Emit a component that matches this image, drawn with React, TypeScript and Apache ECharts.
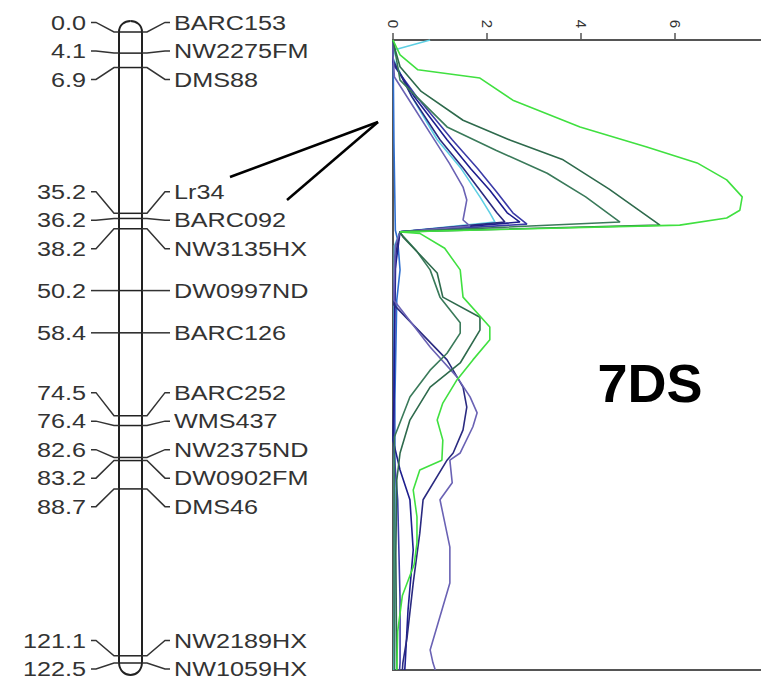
import React, { useEffect, useRef } from 'react';
import * as echarts from 'echarts';

// Linkage map of chromosome 7DS (positions in cM)
const markerPositions = [0.0, 4.1, 6.9, 35.2, 36.2, 38.2, 50.2, 58.4, 74.5, 76.4, 82.6, 83.2, 88.7, 121.1, 122.5];
const markerNames = ['BARC153', 'NW2275FM', 'DMS88', 'Lr34', 'BARC092', 'NW3135HX', 'DW0997ND', 'BARC126', 'BARC252', 'WMS437', 'NW2375ND', 'DW0902FM', 'DMS46', 'NW2189HX', 'NW1059HX'];

// LOD profiles: [LOD, position cM]
const lodBrightGreen = [[0, 0], [0.15, 2.9], [0.53, 5.8], [1.85, 7.4], [2.55, 11.7], [3.98, 16.9], [5.4, 20.8], [6.47, 23.9], [7.1, 27.2], [7.43, 30.5], [7.38, 33.1], [7.1, 34.6], [6.1, 36.0], [5.68, 36.1], [0.15, 37.3], [0.57, 37.6], [1.1, 40.5], [1.43, 44.7], [1.49, 50], [2.06, 55.8], [2.06, 58.3], [1.7, 62.2], [1.36, 66.1], [1.06, 70.6], [0.94, 73.9], [1.06, 77.8], [1.04, 81.7], [0.57, 83.6], [0.43, 87.5], [0.51, 92.7], [0.51, 97.8], [0.45, 102], [0.2, 108], [0.1, 115], [0.08, 122.5]];
const lodDarkGreenA = [[0, 0], [0.05, 2], [0.15, 5.2], [0.6, 10], [1.49, 15.6], [2.5, 19.5], [3.62, 23.3], [4.6, 29], [5.68, 36.0], [0.15, 37.3], [0.21, 38.3], [0.6, 42], [0.94, 45.3], [1.06, 50], [1.85, 53.9], [1.85, 56.4], [1.43, 62.8], [0.79, 67.5], [0.36, 73.9], [0.15, 80.3], [0.08, 85.6], [0.06, 100], [0.08, 122.5]];
const lodDarkGreenB = [[0, 0], [0.05, 2.5], [0.15, 7.8], [0.5, 11], [1.15, 16.9], [2.2, 21.5], [3.28, 25.9], [4.1, 30.5], [4.83, 35.4], [0.15, 37.3], [0.15, 37.5], [0.5, 41], [0.79, 44.7], [1.0, 50], [1.43, 55], [1.43, 57], [1.15, 60.9], [0.79, 64.2], [0.36, 69.4], [0.03, 77.2], [0.02, 100], [0.03, 122.5]];
const lodSlate = [[0, 0], [0, 2.9], [0.03, 7.2], [0.4, 12.5], [0.79, 18.1], [1.2, 24], [1.49, 28.6], [1.57, 31.1], [1.49, 35], [1.64, 36.2], [0.15, 37.3], [0.05, 40], [0.03, 45], [0.02, 50.6], [0.79, 59.7], [1.36, 65.5], [1.64, 69.4], [1.79, 72.5], [1.7, 75.2], [1.43, 80.3], [1.21, 81.7], [1.26, 86.1], [1.0, 89.4], [1.21, 98.6], [1.21, 105.6], [0.79, 118.6], [0.85, 121.1], [0.9, 122.5]];
const lodNavyA = [[0, 0], [0, 3.9], [0.4, 11], [1.0, 19.4], [1.5, 25], [1.85, 29.2], [2.21, 33.6], [2.38, 35.4], [0.15, 37.3], [0.05, 42], [0.02, 51.5], [1.15, 62.2], [1.49, 67.5], [1.57, 71.4], [1.49, 75.8], [1.28, 80.3], [1.15, 81.7], [0.64, 89.4], [0.57, 95.9], [0.43, 105.6], [0.3, 116.1], [0.21, 121.1], [0.2, 122.5]];
const lodNavyB = [[0, 0], [0, 4.3], [0.45, 11], [1.15, 19.4], [1.65, 25], [2.06, 29.2], [2.43, 33.6], [2.7, 35.4], [0.15, 37.3], [0.04, 45], [0.02, 70], [0, 77.8], [0.15, 83.6], [0.36, 89.4], [0.43, 99.2], [0.32, 110.8], [0.26, 121.1], [0.25, 122.5]];
const lodNavyC = [[0, 0], [0, 4.7], [0.5, 11], [1.26, 19.4], [1.8, 25], [2.21, 29.6], [2.55, 33.6], [2.85, 35.8], [0.15, 37.3], [0.06, 40], [0.03, 60], [0.02, 80], [0.1, 89.4], [0.15, 108.9], [0.15, 121.1], [0.14, 122.5]];
const lodCyan = [[0.79, 0], [0.04, 1.9], [0, 3.5], [0.4, 11], [0.94, 19.4], [1.45, 25], [1.85, 30.5], [2.06, 33.6], [2.17, 35.4], [0.15, 37.3], [0.03, 40], [0.02, 60], [0.03, 90], [0.02, 122.5]];
const lodBlue = [[0, 0], [0.02, 20], [0.05, 37], [0.1, 38.9], [0.15, 44.7], [0.08, 50.6], [0.04, 70], [0.04, 100], [0.03, 122.5]];

const lodTickInterval = 2;
const chromosomeTitle = '7DS';

const FONT = '"Liberation Sans", Arial, sans-serif';

function spreadLabels(ys: number[], gap: number, maxY: number): number[] {
  const groups: { start: number; end: number; sum: number }[] = [];
  const topOf = (g: { start: number; end: number; sum: number }) => {
    const n = g.end - g.start + 1;
    return g.sum / n - ((n - 1) * gap) / 2;
  };
  ys.forEach((y, i) => {
    groups.push({ start: i, end: i, sum: y });
    while (groups.length > 1) {
      const b = groups[groups.length - 1];
      const a = groups[groups.length - 2];
      const aBottom = topOf(a) + (a.end - a.start) * gap;
      if (aBottom + gap > topOf(b)) {
        a.end = b.end;
        a.sum += b.sum;
        groups.pop();
      } else break;
    }
  });
  const out: number[] = [];
  groups.forEach((g) => {
    const n = g.end - g.start + 1;
    let top = topOf(g);
    if (top + (n - 1) * gap > maxY) top = maxY - (n - 1) * gap;
    for (let k = 0; k < n; k++) out.push(top + k * gap);
  });
  return out;
}

export default function App() {
  const ref = useRef<HTMLDivElement>(null);
  useEffect(() => {
    if (!ref.current) return;
    const chart = echarts.init(ref.current, undefined, { renderer: 'svg' });
    const mapMax = markerPositions[markerPositions.length - 1];

    const curves = [
      { data: lodBlue, color: '#2f6fd0' },
      { data: lodCyan, color: '#5fd0e4' },
      { data: lodNavyC, color: '#3c3ca8' },
      { data: lodNavyB, color: '#1e1e8e' },
      { data: lodNavyA, color: '#2a2a80' },
      { data: lodSlate, color: '#6a62b4' },
      { data: lodDarkGreenB, color: '#3a7a5a' },
      { data: lodDarkGreenA, color: '#2e6a4c' },
      { data: lodBrightGreen, color: '#40e040' },
    ];

    const option: any = {
      animation: false,
      backgroundColor: '#ffffff',
      grid: [
        { left: 119, top: 32, width: 23, height: 631 },
        { left: 393, top: 40, width: 470, height: 630, show: true, borderColor: '#555', borderWidth: 2, backgroundColor: 'transparent' },
      ],
      xAxis: [
        { gridIndex: 0, type: 'value', min: 0, max: 1, show: false },
        {
          gridIndex: 1, type: 'value', position: 'top', min: 0, max: 10, interval: lodTickInterval,
          axisLine: { show: true, lineStyle: { color: '#555', width: 2 } },
          axisTick: { show: true, length: 7, lineStyle: { color: '#555', width: 1.5 } },
          axisLabel: { rotate: -90, fontSize: 15, color: '#333', margin: 12, fontFamily: FONT },
          splitLine: { show: false },
        },
      ],
      yAxis: [
        { gridIndex: 0, type: 'value', min: 0, max: mapMax, inverse: true, show: false },
        {
          gridIndex: 1, type: 'value', min: 0, max: mapMax, inverse: true,
          axisLine: { show: false }, axisTick: { show: false }, axisLabel: { show: false }, splitLine: { show: false },
        },
      ],
      series: [
        {
          type: 'custom', xAxisIndex: 0, yAxisIndex: 0, silent: true,
          data: [[0, mapMax]],
          renderItem: (params: any, api: any) => {
            const tl = api.coord([0, 0]);
            const br = api.coord([1, api.value(1)]);
            const xl = tl[0], xr = br[0], yt = tl[1], yb = br[1];
            const xm = (xl + xr) / 2;
            const st = { stroke: '#222', lineWidth: 2, fill: 'none' };
            return {
              type: 'group',
              children: [
                { type: 'line', shape: { x1: xl, y1: yt, x2: xl, y2: yb }, style: st },
                { type: 'line', shape: { x1: xr, y1: yt, x2: xr, y2: yb }, style: st },
                { type: 'bezierCurve', shape: { x1: xl, y1: yt, cpx1: xl, cpy1: yt - 7, cpx2: xm - 6, cpy2: yt - 11, x2: xm, y2: yt - 11 }, style: st },
                { type: 'bezierCurve', shape: { x1: xr, y1: yt, cpx1: xr, cpy1: yt - 7, cpx2: xm + 6, cpy2: yt - 11, x2: xm, y2: yt - 11 }, style: st },
                { type: 'bezierCurve', shape: { x1: xl, y1: yb, cpx1: xl + 1, cpy1: yb + 16, cpx2: xr - 1, cpy2: yb + 16, x2: xr, y2: yb }, style: st },
              ],
            };
          },
        },
        {
          type: 'custom', xAxisIndex: 0, yAxisIndex: 0, silent: true,
          data: markerPositions.map((p) => [0.5, p]),
          renderItem: (params: any, api: any) => {
            const i = params.dataIndex;
            const ys = markerPositions.map((p) => api.coord([0, p])[1]);
            const labelYs = spreadLabels(ys, 28.5, ys[ys.length - 1] + 6);
            const xl = api.coord([0, 0])[0];
            const xr = api.coord([1, 0])[0];
            const my = ys[i];
            const ly = labelYs[i];
            const lineSt = { stroke: '#333', lineWidth: 1.5, fill: 'none' };
            const textSt = { fontSize: 21, fontFamily: FONT, fill: '#333', verticalAlign: 'middle' };
            return {
              type: 'group',
              children: [
                { type: 'line', shape: { x1: xl, y1: my, x2: xr, y2: my }, style: { stroke: '#222', lineWidth: 1.5 } },
                { type: 'polyline', shape: { points: [[xl - 28, ly], [xl - 23, ly], [xl - 5, my], [xl, my]] }, style: lineSt },
                { type: 'polyline', shape: { points: [[xr, my], [xr + 5, my], [xr + 23, ly], [xr + 28, ly]] }, style: lineSt },
                { type: 'text', x: xl - 33, y: ly, scaleX: 1.2, style: { ...textSt, text: markerPositions[i].toFixed(1), align: 'right' } },
                { type: 'text', x: xr + 32, y: ly, scaleX: 1.2, style: { ...textSt, text: markerNames[i], align: 'left' } },
              ],
            };
          },
        },
        ...curves.map((c) => ({
          type: 'line', xAxisIndex: 1, yAxisIndex: 1, data: c.data, showSymbol: false, symbol: 'none',
          lineStyle: { color: c.color, width: 1.6 }, clip: true, silent: true,
        })),
      ],
      graphic: [
        { type: 'line', shape: { x1: 378, y1: 122, x2: 230, y2: 177 }, style: { stroke: '#000', lineWidth: 2.5 } },
        { type: 'line', shape: { x1: 378, y1: 122, x2: 287, y2: 200 }, style: { stroke: '#000', lineWidth: 2.5 } },
        {
          type: 'text', x: 650, y: 383,
          style: { text: chromosomeTitle, fontSize: 54, fontWeight: 'bold', fontFamily: FONT, fill: '#000', align: 'center', verticalAlign: 'middle' },
        },
      ],
    };
    chart.setOption(option);
    return () => chart.dispose();
  }, []);

  return (
    <div style={{ position: 'absolute', left: 0, top: 0, width: 761, height: 690, overflow: 'hidden', background: '#fff' }}>
      <div ref={ref} style={{ width: 900, height: 690 }} />
    </div>
  );
}
